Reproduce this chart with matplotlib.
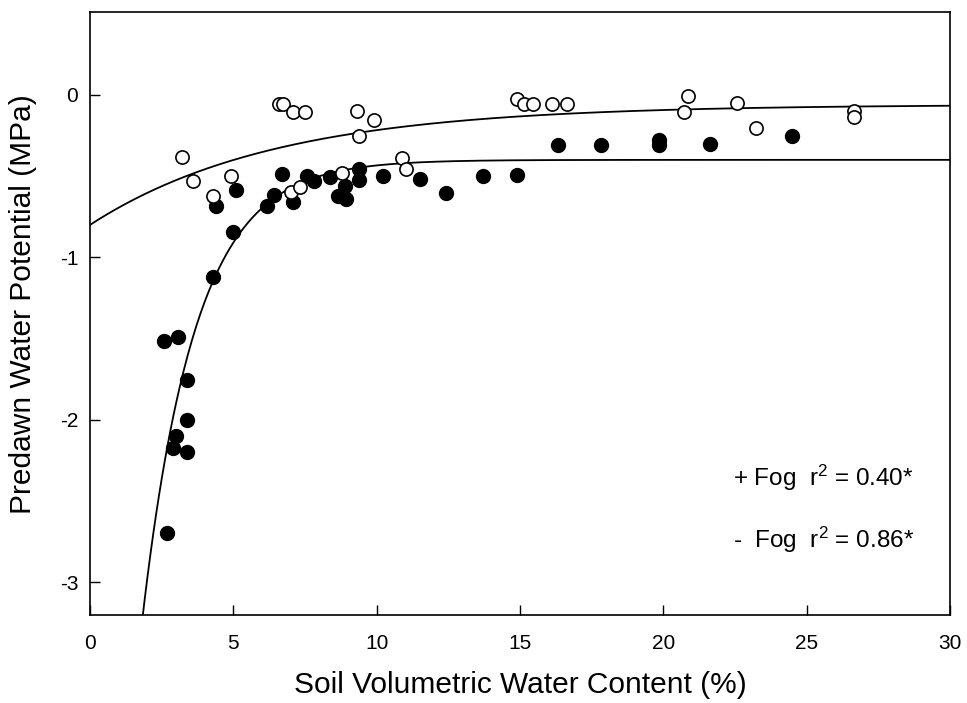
import numpy as np
import matplotlib
matplotlib.use("Agg")
import matplotlib.pyplot as plt

plt.rcParams['font.family'] = ['Liberation Sans', 'DejaVu Sans']
plt.rcParams['mathtext.fontset'] = 'custom'
plt.rcParams['mathtext.rm'] = 'Liberation Sans'
plt.rcParams['axes.unicode_minus'] = False

# +Fog (open circles)
fog_x = [3.20, 3.58, 4.28, 4.91, 6.60, 6.72, 7.09, 7.50, 9.30, 9.91, 9.39,
         10.89, 11.01, 7.01, 7.33, 8.78, 14.88, 15.14, 15.44, 16.10, 16.63,
         20.85, 20.72, 22.56, 23.23, 26.65, 26.65]
fog_y = [-0.38, -0.53, -0.62, -0.50, -0.055, -0.055, -0.105, -0.105, -0.10, -0.155, -0.255,
         -0.39, -0.455, -0.60, -0.565, -0.48, -0.025, -0.055, -0.057, -0.057, -0.057,
         -0.005, -0.105, -0.05, -0.205, -0.10, -0.135]

# -Fog (filled circles)
nofog_x = [4.39, 5.09, 5.00, 6.18, 6.42, 6.71, 7.09, 7.56, 7.81, 8.37, 8.89, 8.66,
           8.93, 9.39, 9.39, 10.21, 11.51, 12.41, 13.72, 14.90, 16.33, 17.82,
           19.85, 19.85, 21.62, 24.50,
           4.28, 2.58, 3.08, 3.37, 3.37, 3.00, 2.88, 3.39, 2.67]
nofog_y = [-0.686, -0.584, -0.844, -0.682, -0.615, -0.488, -0.66, -0.502, -0.533, -0.506, -0.559, -0.621,
           -0.641, -0.457, -0.522, -0.502, -0.518, -0.604, -0.502, -0.496, -0.307, -0.307,
           -0.28, -0.31, -0.303, -0.256,
           -1.123, -1.512, -1.492, -1.752, -2.001, -2.10, -2.17, -2.199, -2.694]

# Exponential fit parameters y = a + b*exp(-c*x)
fog_fit = (-0.06, -0.74, 0.155)
nofog_fit = (-0.40, -7.57, 0.54)

labels = ["+ Fog  r$\\mathregular{^2}$ = 0.40*", "-  Fog  r$\\mathregular{^2}$ = 0.86*"]

fig = plt.figure(figsize=(9.67, 7.03), dpi=100)
ax = fig.add_axes([0.0931, 0.1252, 0.9824 - 0.0931, 0.983 - 0.1252])

xx = np.linspace(0, 30, 600)
for (a, b, c) in (fog_fit, nofog_fit):
    ax.plot(xx, a + b * np.exp(-c * xx), color='black', lw=1.3, zorder=1)

ax.plot(nofog_x, nofog_y, 'o', ms=10, mfc='black', mec='black', mew=1.0, zorder=2, clip_on=False)
ax.plot(fog_x, fog_y, 'o', ms=9.5, mfc='white', mec='black', mew=1.2, zorder=3, clip_on=False)

ax.set_xlim(0, 30)
ax.set_ylim(-3.2, 0.51)
ax.set_xticks([0, 5, 10, 15, 20, 25, 30])
ax.set_yticks([0, -1, -2, -3])
ax.tick_params(direction='in', length=7, width=1, labelsize=15)
ax.tick_params(axis='x', pad=14)
ax.tick_params(axis='y', pad=8.5)
for s in ax.spines.values():
    s.set_linewidth(1.2)

ax.set_xlabel("Soil Volumetric Water Content (%)", fontsize=21.5, labelpad=13)
ax.set_ylabel("Predawn Water Potential (MPa)", fontsize=21.5)
ax.yaxis.set_label_coords(-0.0616, 0.515)

ax.text(0.748, 0.227, labels[0], transform=ax.transAxes, fontsize=17.5, va='center', ha='left')
ax.text(0.748, 0.124, labels[1], transform=ax.transAxes, fontsize=17.5, va='center', ha='left')

fig.savefig("out.png", dpi=100)
